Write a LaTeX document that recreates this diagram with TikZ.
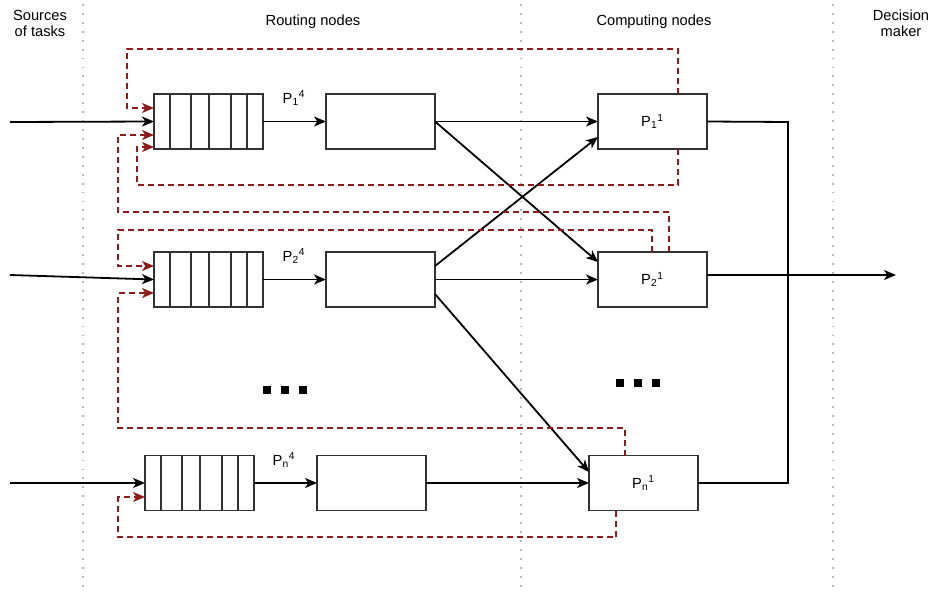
\documentclass[tikz,border=0pt]{standalone}
\usepackage{fontspec}
\setmainfont{Liberation Sans}
\usetikzlibrary{arrows.meta,calc}
\definecolor{fbcol}{RGB}{140,28,28}
\definecolor{gridcol}{RGB}{185,185,185}
\definecolor{boxcol}{RGB}{50,50,50}
\begin{document}
\begin{tikzpicture}[x=0.75pt,y=-0.75pt,
  box/.style={draw=boxcol,line width=1pt,minimum width=81.75pt,minimum height=41.25pt,inner sep=0pt,outer sep=0pt,font=\fontsize{11}{13}\selectfont},
  flow/.style={draw=black,line width=1.35pt,-{Stealth[length=9pt,width=7.5pt,inset=2.5pt]}},
  plain/.style={draw=black,line width=1.35pt},
  fbk/.style={draw=fbcol,line width=1.35pt,dash pattern=on 4.5pt off 3pt,-{Stealth[length=9pt,width=7.5pt,inset=2.5pt]}},
  sepline/.style={draw=gridcol,line width=1.4pt,dash pattern=on 1.4pt off 5.3pt},
  lab/.style={font=\fontsize{11}{13}\selectfont,align=center,inner sep=0pt},
  sqdot/.style={fill=black,minimum size=5.6pt,inner sep=0pt,outer sep=0pt}]
\useasboundingbox (0,0) rectangle (931,592);

% separators
\coordinate (s1t) at (83,4);   \coordinate (s1b) at (83,592);
\coordinate (s2t) at (521,4);  \coordinate (s2b) at (521,592);
\coordinate (s3t) at (833,4);  \coordinate (s3b) at (833,592);
\draw[sepline] (s1t) -- (s1b);
\draw[sepline] (s2t) -- (s2b);
\draw[sepline] (s3t) -- (s3b);

% headers
\node[lab] (hsrc) at (40,23) {Sources\\[-1pt]of tasks};
\node[lab] (hroute) at (313,22) {Routing nodes};
\node[lab] (hcomp) at (654,22) {Computing nodes};
\node[lab] (hdec) at (901,23) {Decision\\[-1pt]maker};

% queues
\node[box] (q1) at (208.5,121.5) {};
\node[box] (q2) at (208.5,279.5) {};
\node[box] (qn) at (199.5,483) {};
\foreach \q in {q1,q2,qn}{
  \foreach \d in {16,37,55,77,93}{
    \draw[draw=boxcol,line width=1pt] ($(\q.north west)+(\d,0)$) -- ($(\q.south west)+(\d,0)$);
  }
}

% routing boxes
\node[box] (r1) at (380.5,121.5) {};
\node[box] (r2) at (380.5,279.5) {};
\node[box] (rn) at (371.5,483) {};

% computing nodes
\node[box] (p1) at (652.5,121.5) {P\textsubscript{1}\textsuperscript{1}};
\node[box] (p2) at (652.5,279.5) {P\textsubscript{2}\textsuperscript{1}};
\node[box] (pn) at (643.5,483) {P\textsubscript{n}\textsuperscript{1}};

% labels
\node[lab] (l1) at (294,98) {P\textsubscript{1}\textsuperscript{4}};
\node[lab] (l2) at (294,256) {P\textsubscript{2}\textsuperscript{4}};
\node[lab] (ln) at (284,460) {P\textsubscript{n}\textsuperscript{4}};

% dots
\node[sqdot] (da1) at (267,390) {};
\node[sqdot] (da2) at (285,390) {};
\node[sqdot] (da3) at (303,390) {};
\node[sqdot] (db1) at (620,383) {};
\node[sqdot] (db2) at (638,383) {};
\node[sqdot] (db3) at (656,383) {};

% sources
\coordinate (src1) at (10,122);
\coordinate (src2) at (10,275);
\coordinate (srcn) at (10,483);
\draw[flow] (src1) -- (q1.west);
\draw[flow] (src2) -- (q2.west);
\draw[flow] (srcn) -- (qn.west);

% queue -> router
\draw[flow] (q1.east) -- (r1.west);
\draw[flow] (q2.east) -- (r2.west);
\draw[flow] (qn.east) -- (rn.west);

% router -> computing
\draw[flow] (r1.east) -- (p1.west);
\draw[flow] (r1.east) -- ($(p2.west)+(0,-17.5)$);
\draw[flow] ($(r2.east)+(0,-13.5)$) -- ($(p1.west)+(0,15.5)$);
\draw[flow] (r2.east) -- (p2.west);
\draw[flow] ($(r2.east)+(0,14.5)$) -- ($(pn.west)+(0,-11)$);
\draw[flow] (rn.east) -- (pn.west);

% outputs
\coordinate (busT) at (788,122);
\coordinate (busB) at (788,483);
\coordinate (dec) at (896,275);
\draw[plain] (p1.east) -- (busT) -- (busB) -- (pn.east);
\draw[flow] ($(p2.east)+(0,-4.5)$) -- (dec);

% feedback
\coordinate (f1) at (127,49);
\coordinate (f2) at (137,185);
\coordinate (f3) at (118,212);
\coordinate (f4) at (118,230);
\coordinate (f5) at (118,428);
\coordinate (f6) at (118,537);
\draw[fbk] ($(p1.north)+(25.5,0)$) |- (f1) |- ($(q1.west)+(0,-13.5)$);
\draw[fbk] ($(p1.south)+(25.5,0)$) |- (f2) |- ($(q1.west)+(0,25.5)$);
\draw[fbk] ($(p2.north)+(16.5,0)$) |- (f3) |- ($(q1.west)+(0,13.5)$);
\draw[fbk] ($(p2.north)+(-0.5,0)$) |- (f4) |- ($(q2.west)+(0,-13.5)$);
\draw[fbk] ($(pn.north)+(-18.5,0)$) |- (f5) |- ($(q2.west)+(0,13.5)$);
\draw[fbk] ($(pn.south)+(-27.5,0)$) |- (f6) |- ($(qn.west)+(0,14)$);
\end{tikzpicture}
\end{document}
